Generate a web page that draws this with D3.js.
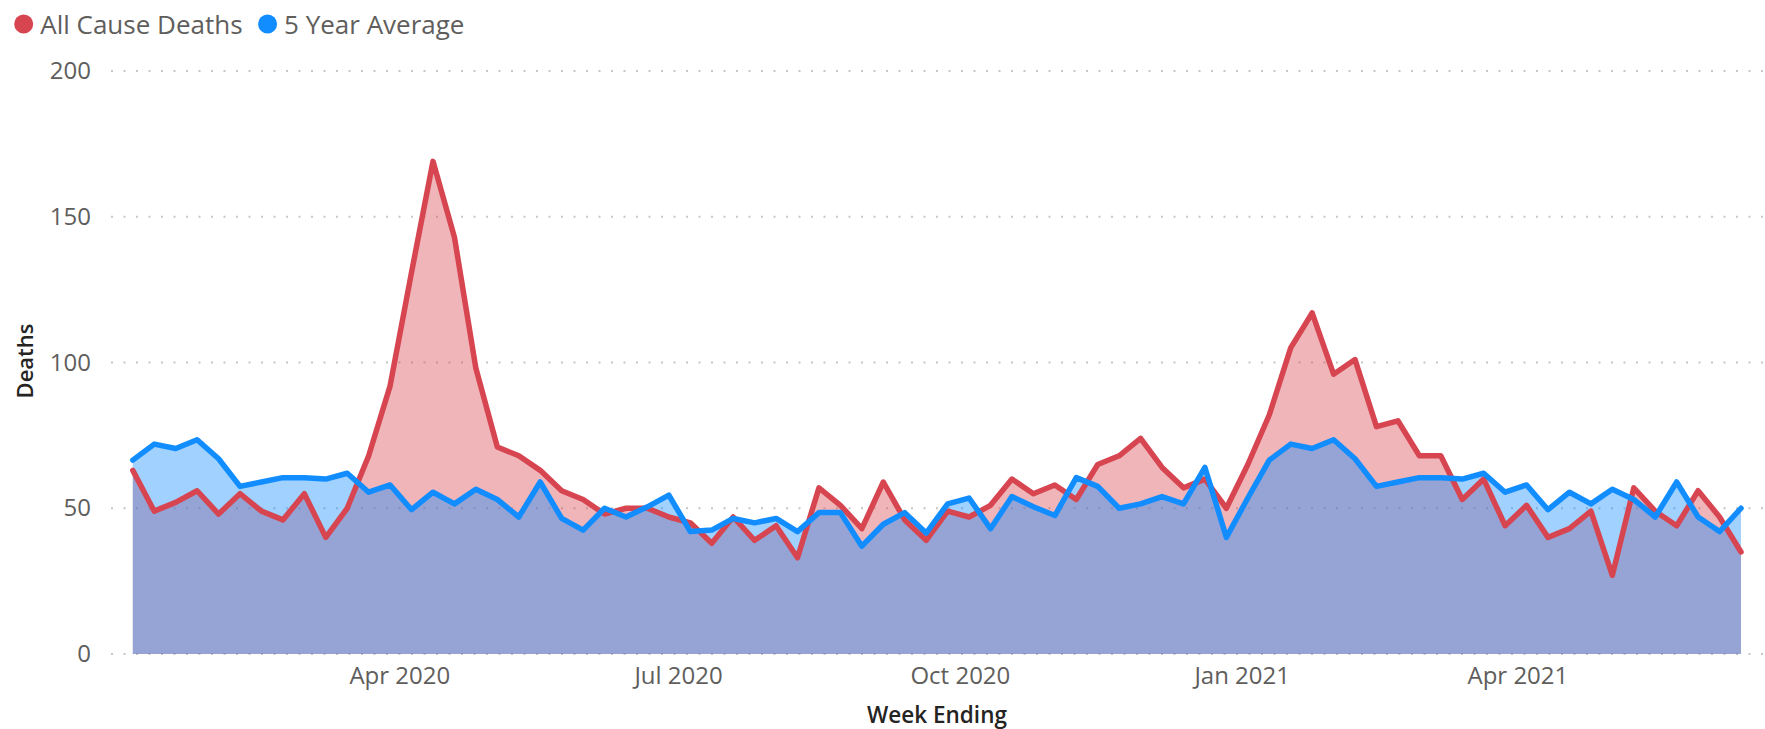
<!DOCTYPE html>
<html>
<head>
<meta charset="utf-8">
<script src="https://cdn.jsdelivr.net/npm/d3@7"></script>
<style>
  html, body { margin: 0; padding: 0; background: #fff; }
  svg { display: block; }
  text { font-family: "Segoe UI", "Open Sans", "Noto Sans", sans-serif; }
</style>
</head>
<body>
<svg id="chart" width="1765" height="729"></svg>
<script>
// ---------------- data ----------------
const startDate = "2020-01-05";   // first week ending
const seriesNames = ["All Cause Deaths", "5 Year Average"];
const allCauseDeaths = [
  63, 49, 52, 56, 48, 55, 49, 46, 55, 40,
  50, 68, 92, 131, 169, 143, 98, 71, 68, 63,
  56, 53, 48, 50, 50, 47, 45, 38, 47, 39,
  44, 33, 57, 51, 43, 59, 46, 39, 49, 47,
  51, 60, 55, 58, 53, 65, 68, 74, 64, 57,
  60, 50, 65, 82, 105, 117, 96, 101, 78, 80,
  68, 68, 53, 60, 44, 51, 40, 43, 49, 27,
  57, 49, 44, 56, 47, 35
];
const fiveYearAverage = [
  66.5, 72, 70.5, 73.5, 67, 57.5, 59, 60.5, 60.5, 60,
  62, 55.5, 58, 49.5, 55.5, 51.5, 56.5, 53, 47, 59,
  46.5, 42.5, 50, 47, 50.5, 54.5, 42, 42.5, 46.5, 45,
  46.5, 42, 48.5, 48.5, 37, 44.5, 48.5, 41.5, 51.5, 53.5,
  43, 54, 50.5, 47.5, 60.5, 57.5, 50, 51.5, 54, 51.5,
  64, 40, 53.5, 66.5, 72, 70.5, 73.5, 67, 57.5, 59,
  60.5, 60.5, 60, 62, 55.5, 58, 49.5, 55.5, 51.5, 56.5,
  53, 47, 59, 47, 42, 50
];
const yTicks = [0, 50, 100, 150, 200];
const xTickDates = ["2020-04-01", "2020-07-01", "2020-10-01", "2021-01-01", "2021-04-01"];
const colors = ["#D64550", "#118DFF"];

// ---------------- build ----------------
const parse = d3.utcParse("%Y-%m-%d");
const d0 = parse(startDate);
const dates = allCauseDeaths.map((_, i) => d3.utcDay.offset(d0, 7 * i));
const series = [allCauseDeaths, fiveYearAverage].map((vals, k) => ({
  name: seriesNames[k], color: colors[k],
  points: vals.map((v, i) => ({ date: dates[i], value: v }))
}));

const svg = d3.select("#chart");
const x = d3.scaleUtc().domain(d3.extent(dates)).range([132.8, 1741]);
const y = d3.scaleLinear().domain([0, 200]).range([654, 71]);

// gridlines
svg.append("g").selectAll("line").data(yTicks).join("line")
  .attr("x1", 111).attr("x2", 1765)
  .attr("y1", d => y(d)).attr("y2", d => y(d))
  .attr("stroke", "#C8C6C4").attr("stroke-width", 2)
  .attr("stroke-dasharray", "2,10.5");

// y axis labels
const yAxis = d3.axisLeft(y).tickValues(yTicks).tickSize(0).tickPadding(0);
const gy = svg.append("g").attr("transform", "translate(91,0)").call(yAxis);
gy.select(".domain").remove();
gy.selectAll("text").attr("font-size", 24).attr("fill", "#605E5C")
  .attr("font-family", "'Segoe UI','Open Sans',sans-serif");

// x axis labels
const xAxis = d3.axisBottom(x).tickValues(xTickDates.map(parse))
  .tickFormat(d3.utcFormat("%b %Y")).tickSize(0).tickPadding(0);
const gx = svg.append("g").attr("transform", "translate(0,666)").call(xAxis);
gx.select(".domain").remove();
gx.selectAll("text").attr("font-size", 24).attr("fill", "#605E5C")
  .attr("dy", "0.76em")
  .attr("font-family", "'Segoe UI','Open Sans',sans-serif");

// areas
const area = d3.area().x(d => x(d.date)).y0(y(0)).y1(d => y(d.value)).curve(d3.curveLinear);
const line = d3.line().x(d => x(d.date)).y(d => y(d.value)).curve(d3.curveLinear);

svg.append("g").selectAll("path").data(series).join("path")
  .attr("d", d => area(d.points))
  .attr("fill", d => d.color).attr("fill-opacity", 0.40);

svg.append("g").selectAll("path").data(series).join("path")
  .attr("d", d => line(d.points))
  .attr("fill", "none").attr("stroke", d => d.color)
  .attr("stroke-width", 5.5).attr("stroke-linejoin", "round").attr("stroke-linecap", "round");

// axis titles
svg.append("text").attr("transform", "translate(33,361) rotate(-90)")
  .attr("text-anchor", "middle").attr("font-size", 22).attr("font-weight", 600)
  .attr("fill", "#252423").text("Deaths");
svg.append("text").attr("x", 937).attr("y", 723)
  .attr("text-anchor", "middle").attr("font-size", 22.5).attr("font-weight", 600)
  .attr("fill", "#252423").text("Week Ending");

// legend
const legend = svg.append("g");
let lx = 23.7;
series.forEach(s => {
  legend.append("circle").attr("cx", lx).attr("cy", 24).attr("r", 9.5).attr("fill", s.color);
  const t = legend.append("text").attr("x", lx + 16.5).attr("y", 33.5)
    .attr("font-size", 26).attr("fill", "#605E5C").text(s.name);
  lx = lx + 16.5 + t.node().getComputedTextLength() + 25;
});
</script>
</body>
</html>
